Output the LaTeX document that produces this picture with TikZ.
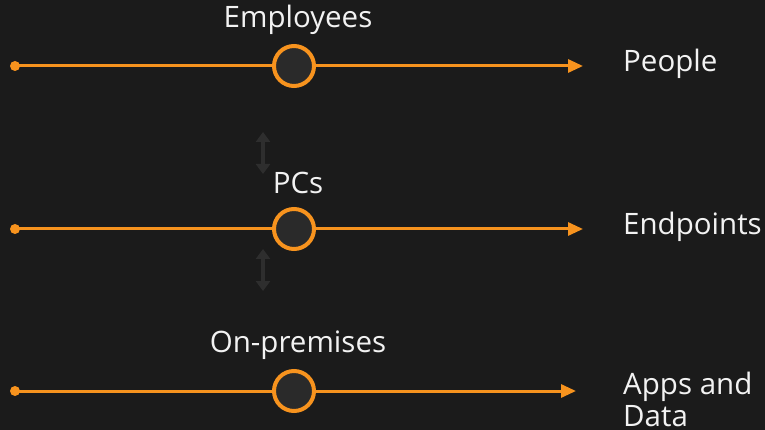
\documentclass[tikz,border=0pt]{standalone}
\usepackage{fontspec}
\setmainfont{Open Sans}
\usetikzlibrary{arrows.meta}
\definecolor{bg}{HTML}{1B1B1B}
\definecolor{orng}{HTML}{F7931E}
\definecolor{knob}{HTML}{2A2A2A}
\definecolor{ghost}{HTML}{2E2E2E}
\definecolor{txt}{HTML}{F2F2F2}
\tikzset{
  track/.style={draw=orng, line width=3pt, -{Triangle[length=15pt,width=13pt]}},
  enddot/.style={circle, fill=orng, inner sep=0pt, minimum size=10pt},
  knobc/.style={circle, draw=orng, line width=4pt, fill=knob, inner sep=0pt, minimum size=40pt},
  toplbl/.style={text=txt, font=\fontsize{29.5}{33}\selectfont, inner sep=0pt},
  sidelbl/.style={text=txt, font=\fontsize{29.5}{32}\selectfont, inner sep=0pt, anchor=west, align=left},
  ghostarrow/.style={draw=ghost, line width=4pt, {Triangle[length=10pt,width=14pt]}-{Triangle[length=10pt,width=14pt]}}
}
\begin{document}
\begin{tikzpicture}[x=1pt,y=-1pt]
\useasboundingbox[fill=bg] (0,0) rectangle (765,430);
% row 1
\node[enddot] (d1) at (15,66) {};
\coordinate (e1) at (583,66);
\draw[track] (d1.center) -- (e1);
\node[knobc] (k1) at (294,66) {};
\node[toplbl] (t1) at (298,20) {Employees};
\node[sidelbl] (s1) at (623,64) {People};
% row 2
\node[enddot] (d2) at (15,229) {};
\coordinate (e2) at (583,229);
\draw[track] (d2.center) -- (e2);
\node[knobc] (k2) at (294,229) {};
\node[toplbl] (t2) at (298,183) {PCs};
\node[sidelbl] (s2) at (623,227) {Endpoints};
% row 3
\node[enddot] (d3) at (15,391) {};
\coordinate (e3) at (576,391);
\draw[track] (d3.center) -- (e3);
\node[knobc] (k3) at (294,391) {};
\node[toplbl] (t3) at (298,345) {On-premises};
\node[sidelbl] (s3) at (623,399) {Apps and\\Data};
% faint arrows
\coordinate (g1a) at (263,132);
\coordinate (g1b) at (263,174);
\draw[ghostarrow] (g1a) -- (g1b);
\coordinate (g2a) at (263,249);
\coordinate (g2b) at (263,291);
\draw[ghostarrow] (g2a) -- (g2b);
\end{tikzpicture}
\end{document}
